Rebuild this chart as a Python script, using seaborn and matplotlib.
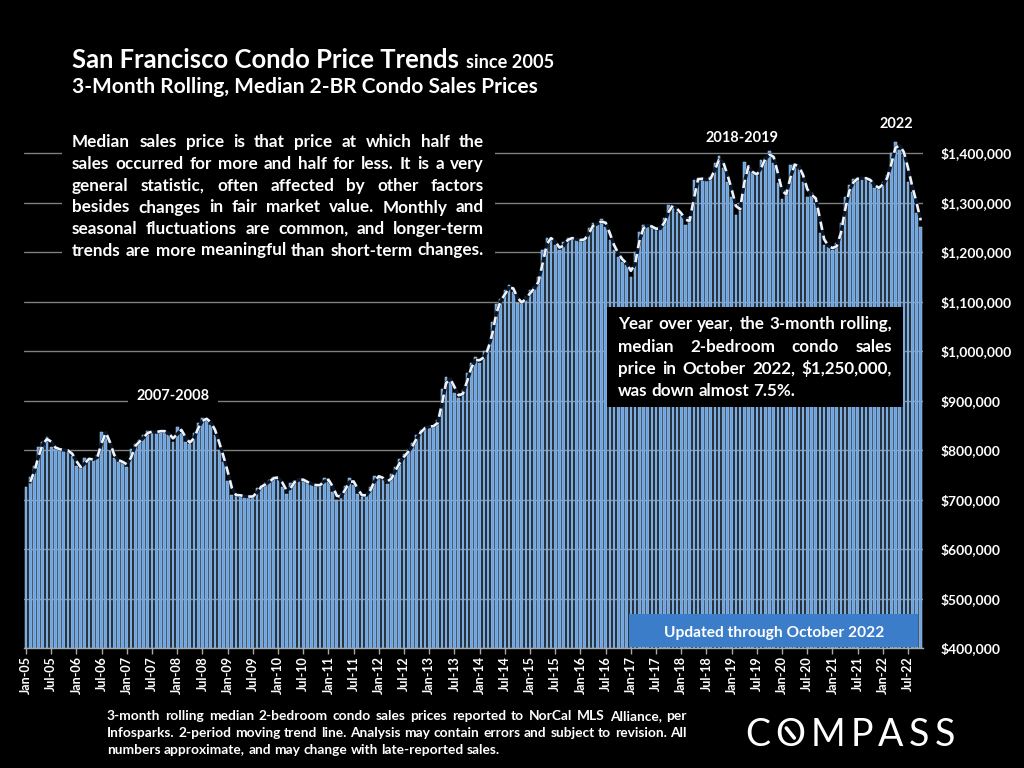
import numpy as np
import pandas as pd
import matplotlib
matplotlib.use("Agg")
import matplotlib.pyplot as plt
import seaborn as sns
from matplotlib.patches import Rectangle
from matplotlib.lines import Line2D

# ---------------- data (3-month rolling median, $ thousands) ----------------
p2005 = [725, 746, 768, 807, 817, 827, 807, 803, 800, 800, 798, 787]
p2006 = [768, 763, 783, 781, 781, 790, 837, 834, 797, 783, 776, 776]
p2007 = [766, 803, 813, 820, 830, 839, 835, 837, 839, 837, 830, 817]
p2008 = [847, 834, 817, 813, 834, 854, 864, 862, 850, 831, 799, 776]
p2009 = [738, 709, 709, 708, 705, 707, 705, 723, 728, 733, 740, 746]
p2010 = [743, 726, 712, 734, 737, 742, 738, 733, 730, 728, 730, 743]
p2011 = [737, 716, 699, 712, 728, 743, 730, 712, 705, 712, 726, 748]
p2012 = [746, 741, 732, 752, 766, 782, 791, 801, 815, 831, 841, 847]
p2013 = [848, 848, 861, 923, 947, 940, 915, 906, 921, 956, 975, 988]
p2014 = [975, 999, 1009, 1059, 1095, 1106, 1123, 1133, 1120, 1096, 1100, 1110]
p2015 = [1123, 1129, 1150, 1204, 1228, 1228, 1214, 1204, 1221, 1228, 1228, 1224]
p2016 = [1224, 1227, 1248, 1258, 1256, 1267, 1251, 1224, 1204, 1190, 1180, 1174]
p2017 = [1150, 1201, 1241, 1255, 1253, 1250, 1244, 1251, 1268, 1295, 1293, 1281]
p2018 = [1275, 1255, 1271, 1345, 1349, 1347, 1345, 1352, 1380, 1393, 1369, 1342]
p2019 = [1311, 1275, 1298, 1382, 1364, 1359, 1354, 1386, 1389, 1405, 1379, 1339]
p2020 = [1308, 1325, 1376, 1377, 1369, 1342, 1312, 1319, 1298, 1238, 1214, 1211]
p2021 = [1205, 1218, 1258, 1312, 1335, 1347, 1349, 1349, 1349, 1342, 1329, 1330]
p2022 = [1342, 1356, 1399, 1423, 1407, 1396, 1342, 1322, 1278, 1250]

x_tick_labels = ["Jan-05", "Jul-05", "Jan-06", "Jul-06", "Jan-07", "Jul-07", "Jan-08", "Jul-08",
                 "Jan-09", "Jul-09", "Jan-10", "Jul-10", "Jan-11", "Jul-11", "Jan-12", "Jul-12",
                 "Jan-13", "Jul-13", "Jan-14", "Jul-14", "Jan-15", "Jul-15", "Jan-16", "Jul-16",
                 "Jan-17", "Jul-17", "Jan-18", "Jul-18", "Jan-19", "Jul-19", "Jan-20", "Jul-20",
                 "Jan-21", "Jul-21", "Jan-22", "Jul-22"]
y_tick_values = [400000, 500000, 600000, 700000, 800000, 900000, 1000000,
                 1100000, 1200000, 1300000, 1400000]
y_tick_labels = ["$400,000", "$500,000", "$600,000", "$700,000", "$800,000", "$900,000",
                 "$1,000,000", "$1,100,000", "$1,200,000", "$1,300,000", "$1,400,000"]

prices = np.array(p2005 + p2006 + p2007 + p2008 + p2009 + p2010 + p2011 + p2012 + p2013
                  + p2014 + p2015 + p2016 + p2017 + p2018 + p2019 + p2020 + p2021 + p2022) * 1000.0
n = len(prices)
df = pd.DataFrame({"month": np.arange(n), "price": prices})
df["trend"] = df["price"].rolling(2).mean()

# ---------------- style ----------------
sns.set_style("dark")
plt.rcParams["font.family"] = ["Lato", "DejaVu Sans"]
plt.rcParams["figure.facecolor"] = "black"
plt.rcParams["axes.facecolor"] = "black"

W, H = 1024, 768
fig = plt.figure(figsize=(W / 100, H / 100), dpi=100)
fig.patch.set_facecolor("black")

x_left, x_right = 23.9, 922.8
y_bottom, y_top = 648.0, 103.5
ax = fig.add_axes([x_left / W, 1 - y_bottom / H, (x_right - x_left) / W, (y_bottom - y_top) / H])
ax.set_facecolor("black")

sns.barplot(data=df, x="month", y="price", color="#6ca2de", saturation=1, width=0.64,
            edgecolor="#b0d0f2", linewidth=0.35, ax=ax, zorder=2)
sns.lineplot(x=df["month"], y=df["trend"], ax=ax, color="#0b1626", linewidth=2.4, zorder=3)
sns.lineplot(x=df["month"], y=df["trend"], ax=ax, color="#eef3fb", linewidth=1.9,
             linestyle=(0, (3.2, 2.2)), zorder=4)

ax.set_xlim(-0.5, n - 0.5)
ax.set_ylim(400000, 1500000)
ax.set_yticks(y_tick_values)
ax.set_yticklabels(y_tick_labels, fontweight="bold")
ax.yaxis.tick_right()
ax.tick_params(axis="y", length=0, pad=13, labelsize=10, labelcolor="white")
ax.set_xticks(np.arange(0, n, 6))
ax.set_xticklabels(x_tick_labels, rotation=90, fontweight="bold")
ax.tick_params(axis="x", length=4, width=1, color="#a6a6a6", pad=2, labelsize=9,
               labelcolor="white", bottom=True)
ax.grid(axis="y", color="#7f7f7f", linewidth=1)
ax.grid(axis="x", visible=False)
ax.set_axisbelow(True)
ax.set_xlabel("")
ax.set_ylabel("")
for s in ["left", "right", "top"]:
    ax.spines[s].set_visible(False)
ax.spines["bottom"].set_color("#a6a6a6")
ax.spines["bottom"].set_linewidth(1)

# ---------------- text helpers ----------------
renderer = fig.canvas.get_renderer()


def measure(s, size, weight="bold", family=None):
    kw = {} if family is None else {"family": family}
    t = fig.text(0, 0, s, fontsize=size, fontweight=weight, **kw)
    w = t.get_window_extent(renderer).width
    t.remove()
    return w


def fit(lines, target, weight="bold", family=None):
    widest = max(measure(l, 10, weight, family) for l in lines)
    return 10 * target / widest


def ftext(x, y, s, **kw):
    return fig.text(x / W, 1 - y / H, s, **kw)


def frect(x0, y0, x1, y1, color):
    fig.patches.append(Rectangle((x0 / W, 1 - y1 / H), (x1 - x0) / W, (y1 - y0) / H,
                                 transform=fig.transFigure, facecolor=color,
                                 edgecolor="none", zorder=2))


def justify(lines, x0, x1, baselines, size, weight="bold", last_full=True, family=None):
    kw = {} if family is None else {"family": family}
    space = measure("a a", size, weight, family) - measure("aa", size, weight, family)
    for k, (line, yb) in enumerate(zip(lines, baselines)):
        words = line.split()
        ws = [measure(w, size, weight, family) for w in words]
        if len(words) > 1 and (last_full or k < len(lines) - 1):
            gap = (x1 - x0 - sum(ws)) / (len(words) - 1)
        else:
            gap = space
        x = x0
        for w, wd in zip(words, ws):
            ftext(x, yb, w, fontsize=size, fontweight=weight, color="white",
                  va="baseline", ha="left", zorder=5, **kw)
            x += wd + gap


# ---------------- title ----------------
title = "San Francisco Condo Price Trends"
ts = fit([title], 388)
ftext(72, 68, title, fontsize=ts, fontweight="bold", color="white", va="baseline")
ss = fit(["since 2005"], 88)
ftext(466, 68, "since 2005", fontsize=ss, fontweight="bold", color="white", va="baseline")
sub = "3-Month Rolling, Median 2-BR Condo Sales Prices"
ftext(72, 93, sub, fontsize=fit([sub], 466), fontweight="bold", color="white", va="baseline")

# ---------------- explanatory paragraph ----------------
para = ["Median sales price is that price at which half the",
        "sales occurred for more and half for less. It is a very",
        "general statistic, often affected by other factors",
        "besides changes in fair market value. Monthly and",
        "seasonal fluctuations are common, and longer-term",
        "trends are more meaningful than short-term changes."]
frect(62, 124, 495, 264, "black")
justify(para, 72, 484, [147, 169, 191, 212.5, 234, 255.5], fit(para, 408), last_full=True)

# ---------------- YoY box ----------------
yoy = ["Year over year, the 3-month rolling,",
       "median 2-bedroom condo sales",
       "price in October 2022, $1,250,000,",
       "was down almost 7.5%."]
frect(607, 307, 903, 407, "black")
justify(yoy, 618, 892, [329.5, 352, 374, 396], fit(yoy, 271), last_full=False)

# ---------------- updated box ----------------
frect(629, 614, 918, 647, "#3b7dc9")
upd = "Updated through October 2022"
ftext(774, 637, upd, fontsize=fit([upd], 220), fontweight="bold", color="white",
      va="baseline", ha="center", zorder=5)

# ---------------- period labels ----------------
lab_size = fit(["2007-2008"], 73)
ftext(173, 400.5, "2007-2008", fontsize=lab_size, fontweight="bold", color="white",
      va="baseline", ha="center", zorder=5,
      bbox=dict(facecolor="black", edgecolor="none", pad=6))
ftext(742, 141.5, "2018-2019", fontsize=lab_size, fontweight="bold", color="white",
      va="baseline", ha="center", zorder=5)
ftext(896, 127.5, "2022", fontsize=lab_size, fontweight="bold", color="white",
      va="baseline", ha="center", zorder=5)

# ---------------- footnote ----------------
foot = ["3-month rolling median 2-bedroom condo sales prices reported to NorCal MLS Alliance, per",
        "Infosparks. 2-period moving trend line. Analysis may contain errors and subject to revision. All",
        "numbers approximate, and may change with late-reported sales."]
justify(foot, 107, 687, [720, 737, 753.5], fit(foot, 574), last_full=False)

# ---------------- COMPASS logo ----------------
logo = "COMPASS"
ls = 27
lw_ = [measure(c, ls, "normal") for c in logo]
gap = (210 - sum(lw_)) / (len(logo) - 1)
x = 745
for c, wd in zip(logo, lw_):
    ftext(x, 746, c, fontsize=ls, fontweight="normal", color="white", va="baseline", ha="left")
    if c == "O" and x < 800:
        cx, cy = x + wd / 2, 733
        fig.lines.append(Line2D([(cx - 4) / W, (cx + 4) / W], [1 - (cy - 5) / H, 1 - (cy + 5) / H],
                                transform=fig.transFigure, color="white", linewidth=2.6))
    x += wd + gap

fig.savefig("out.png", dpi=100, facecolor="black")
